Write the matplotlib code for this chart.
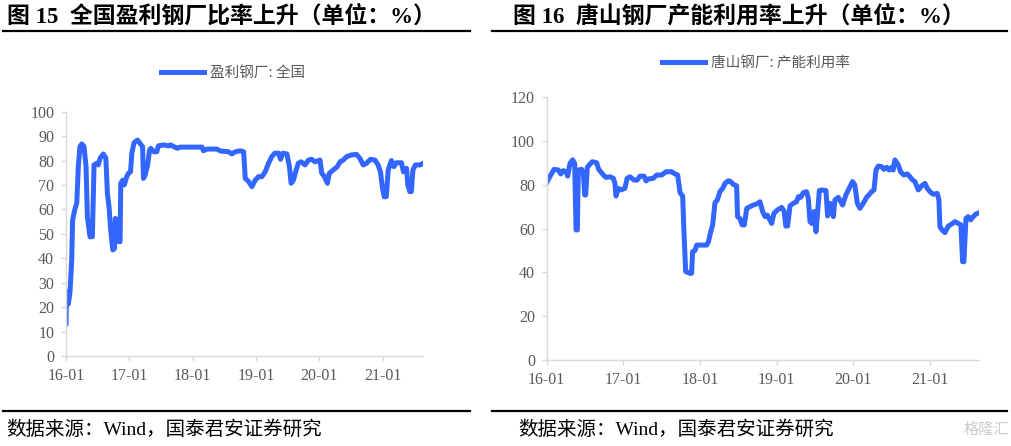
import matplotlib
matplotlib.use("Agg")
import matplotlib.pyplot as plt
from matplotlib.lines import Line2D

# ---------------------------------------------------------------------------
# data (x = decimal year, y = %)
# ---------------------------------------------------------------------------
year_ticks = [2016, 2017, 2018, 2019, 2020, 2021]
year_labels = ["16-01", "17-01", "18-01", "19-01", "20-01", "21-01"]

# 全国盈利钢厂比率
t_profit = [0.0, 0.01, 0.037, 0.063, 0.09, 0.105, 0.14, 0.17, 0.195, 0.22, 0.25, 0.285,
            0.317, 0.338, 0.38, 0.417, 0.443, 0.486, 0.51, 0.54, 0.59, 0.63, 0.654, 0.68,
            0.707, 0.74, 0.765, 0.78, 0.81, 0.83, 0.855, 0.865, 0.897, 0.92, 0.96, 0.987,
            1.02, 1.04, 1.076, 1.13, 1.17, 1.21, 1.224, 1.25, 1.29, 1.32, 1.34, 1.39,
            1.435, 1.46, 1.54, 1.62, 1.65, 1.725, 1.76, 1.805, 1.91, 2.015, 2.15, 2.17,
            2.23, 2.385, 2.44, 2.57, 2.62, 2.675, 2.755, 2.806, 2.832, 2.885, 2.937, 2.99,
            3.04, 3.094, 3.147, 3.2, 3.25, 3.30, 3.357, 3.39, 3.425, 3.49, 3.53, 3.556,
            3.593, 3.635, 3.67, 3.714, 3.777, 3.83, 3.88, 3.934, 4.013, 4.04, 4.076, 4.13,
            4.16, 4.22, 4.286, 4.33, 4.38, 4.434, 4.51, 4.59, 4.643, 4.695, 4.748, 4.81,
            4.88, 4.93, 4.968, 5.0, 5.026, 5.06, 5.09, 5.14, 5.18, 5.22, 5.3, 5.33,
            5.38, 5.40, 5.43, 5.456, 5.48, 5.52, 5.59, 5.645]
v_profit = [13.4, 26.3, 21.3, 26.0, 39.0, 55.7, 60.0, 62.5, 77.5, 85.7, 86.8, 85.7,
            77.5, 57.0, 48.8, 48.8, 78.2, 78.9, 78.2, 81.0, 82.7, 81.0, 66.6, 61.0,
            51.6, 43.4, 44.0, 56.3, 55.7, 46.8, 46.8, 70.7, 72.0, 70.0, 73.4, 74.8,
            75.4, 83.0, 87.3, 88.4, 87.0, 85.7, 72.7, 74.0, 78.2, 84.3, 85.0, 83.6,
            83.6, 86.0, 86.4, 86.0, 86.4, 85.4, 85.0, 85.5, 85.5, 85.5, 85.5, 84.0,
            84.7, 84.7, 83.9, 83.6, 82.7, 83.6, 84.0, 83.6, 72.7, 71.4, 69.3, 72.0,
            73.4, 73.4, 75.4, 78.9, 81.6, 83.0, 83.0, 80.5, 83.0, 82.7, 77.5, 70.7,
            72.0, 76.1, 78.9, 79.5, 78.2, 80.2, 80.5, 79.5, 80.2, 74.8, 73.7, 70.7,
            74.8, 76.1, 77.5, 79.5, 80.2, 81.6, 82.3, 82.5, 80.9, 78.2, 78.9, 80.5,
            80.2, 78.2, 75.4, 68.6, 65.2, 65.2, 76.1, 80.0, 77.5, 79.1, 79.1, 75.4,
            76.8, 70.0, 67.3, 67.3, 76.1, 78.2, 78.2, 78.9]

# 唐山钢厂产能利用率
t_ts = [0.0, 0.035, 0.096, 0.152, 0.183, 0.217, 0.252, 0.274, 0.304, 0.339, 0.365, 0.383,
        0.4, 0.413, 0.457, 0.478, 0.496, 0.509, 0.53, 0.565, 0.596, 0.652, 0.678, 0.74,
        0.774, 0.826, 0.87, 0.89, 0.904, 0.935, 0.97, 1.02, 1.05, 1.087, 1.14, 1.18,
        1.217, 1.27, 1.296, 1.326, 1.39, 1.435, 1.5, 1.557, 1.63, 1.674, 1.709, 1.74,
        1.774, 1.79, 1.813, 1.87, 1.89, 1.904, 1.935, 1.957, 2.087, 2.11, 2.14, 2.165,
        2.196, 2.226, 2.26, 2.296, 2.326, 2.37, 2.4, 2.435, 2.478, 2.49, 2.52, 2.55,
        2.578, 2.61, 2.65, 2.696, 2.74, 2.783, 2.817, 2.848, 2.878, 2.935, 2.965, 3.009,
        3.065, 3.096, 3.12, 3.143, 3.174, 3.217, 3.26, 3.283, 3.313, 3.348, 3.39, 3.413,
        3.435, 3.457, 3.487, 3.513, 3.53, 3.557, 3.587, 3.643, 3.665, 3.696, 3.74, 3.76,
        3.804, 3.86, 3.904, 3.957, 3.99, 4.02, 4.052, 4.087, 4.13, 4.174, 4.24, 4.27,
        4.296, 4.326, 4.37, 4.4, 4.435, 4.47, 4.5, 4.52, 4.543, 4.587, 4.617, 4.66,
        4.704, 4.74, 4.774, 4.804, 4.848, 4.89, 4.935, 4.965, 5.0, 5.043, 5.096, 5.117,
        5.13, 5.165, 5.196, 5.24, 5.283, 5.326, 5.37, 5.404, 5.426, 5.443, 5.47, 5.5,
        5.53, 5.565, 5.6, 5.643]
v_ts = [81.0, 83.4, 87.1, 86.8, 85.0, 86.5, 86.0, 84.0, 89.8, 91.4, 89.8, 59.4,
        59.4, 86.8, 87.1, 85.3, 75.4, 75.4, 88.0, 89.5, 90.6, 90.1, 87.1, 84.5,
        83.4, 83.7, 83.0, 80.7, 74.9, 78.4, 77.7, 78.4, 83.0, 83.7, 82.2, 82.2,
        84.0, 84.0, 81.8, 82.7, 83.0, 84.5, 84.5, 86.0, 86.0, 85.0, 84.5, 76.4,
        74.9, 59.4, 40.4, 39.6, 39.6, 49.5, 50.0, 52.5, 52.5, 54.0, 58.6, 61.7,
        71.9, 73.1, 76.9, 78.4, 80.7, 81.9, 81.5, 80.2, 79.6, 65.5, 64.7, 61.7,
        61.7, 69.3, 70.0, 70.8, 71.3, 72.3, 67.8, 65.5, 66.2, 62.4, 67.0, 68.5,
        69.7, 68.2, 61.2, 61.2, 70.4, 71.6, 72.3, 74.6, 74.3, 76.4, 76.9, 73.9,
        63.2, 62.4, 67.8, 58.6, 65.5, 77.4, 77.7, 77.4, 65.8, 71.6, 65.5, 73.1,
        74.3, 70.8, 75.4, 79.2, 81.5, 80.0, 71.6, 69.3, 71.6, 74.3, 76.9, 77.7,
        86.8, 88.6, 88.3, 87.1, 88.0, 86.8, 88.0, 86.8, 91.4, 89.1, 86.0, 84.5,
        85.0, 83.7, 82.2, 81.5, 77.7, 79.5, 80.7, 78.4, 76.9, 75.7, 76.1, 73.1,
        60.9, 59.1, 58.2, 61.2, 62.1, 63.2, 62.4, 61.7, 44.9, 44.9, 64.7, 65.5,
        64.0, 65.5, 66.7, 67.3]

x_profit = [2016 + t for t in t_profit]
x_ts = [2016 + t for t in t_ts]

# ---------------------------------------------------------------------------
blue = "#3366FF"
grey_txt = "#595959"
grey_axis = "#D9D9D9"
cjk = ["Liberation Serif", "Noto Sans CJK SC", "DejaVu Sans"]

fig = plt.figure(figsize=(10.12, 4.46), dpi=100)


def style_axis(ax, ymax, ystep):
    ax.set_xlim(2016, 2021.64)
    ax.set_ylim(0, ymax)
    ax.set_yticks(range(0, ymax + 1, ystep))
    ax.set_xticks(year_ticks)
    ax.set_xticklabels(year_labels)
    for s in ["top", "right"]:
        ax.spines[s].set_visible(False)
    for s in ["left", "bottom"]:
        ax.spines[s].set_color(grey_axis)
        ax.spines[s].set_linewidth(1.0)
    ax.tick_params(axis="both", colors=grey_axis, labelcolor=grey_txt, length=3.5,
                   width=1.0, labelsize=11.5, pad=5)
    for lab in ax.get_xticklabels() + ax.get_yticklabels():
        lab.set_family("Liberation Serif")


# left chart
ax1 = fig.add_axes([0.0652, 0.2018, 0.3528, 0.5478])
ax1.plot(x_profit, v_profit, color=blue, lw=3.6, solid_joinstyle="round",
         label="盈利钢厂: 全国")
style_axis(ax1, 100, 10)
leg1 = ax1.legend(loc="center", bbox_to_anchor=(0.468, 1.158), frameon=False,
                  handlelength=3.0, handletextpad=0.4,
                  prop={"family": "Noto Sans CJK SC", "size": 10.5})
for tx in leg1.get_texts():
    tx.set_color(grey_txt)

# right chart
ax2 = fig.add_axes([0.5402, 0.1928, 0.4272, 0.5890])
ax2.plot(x_ts, v_ts, color=blue, lw=3.6, solid_joinstyle="round",
         label="唐山钢厂: 产能利用率")
style_axis(ax2, 120, 20)
leg2 = ax2.legend(loc="center", bbox_to_anchor=(0.484, 1.132), frameon=False,
                  handlelength=3.0, handletextpad=0.4,
                  prop={"family": "Noto Sans CJK SC", "size": 10.5})
for tx in leg2.get_texts():
    tx.set_color(grey_txt)

# titles, rules and source lines
fig.text(0.007, 0.964, "图 15  全国盈利钢厂比率上升（单位：%）", family=cjk,
         weight="bold", fontsize=16.5, va="center", ha="left")
fig.text(0.507, 0.964, "图 16  唐山钢厂产能利用率上升（单位：%）", family=cjk,
         weight="bold", fontsize=16.5, va="center", ha="left")

for x0, x1 in [(0.003, 0.464), (0.486, 0.995)]:
    fig.add_artist(Line2D([x0, x1], [0.9294, 0.9294], color="black", lw=1.6,
                          transform=fig.transFigure))
    fig.add_artist(Line2D([x0, x1], [0.0785, 0.0785], color="black", lw=1.6,
                          transform=fig.transFigure))

fig.text(0.006, 0.036, "数据来源：Wind，国泰君安证券研究", family=cjk,
         fontsize=14, va="center", ha="left")
fig.text(0.512, 0.036, "数据来源：Wind，国泰君安证券研究", family=cjk,
         fontsize=14, va="center", ha="left")

# watermark
fig.text(0.997, 0.036, "格隆汇", family=["Noto Sans CJK SC"], fontsize=11,
         color="#cccccc", va="center", ha="right")

fig.savefig("out.png", dpi=100)
